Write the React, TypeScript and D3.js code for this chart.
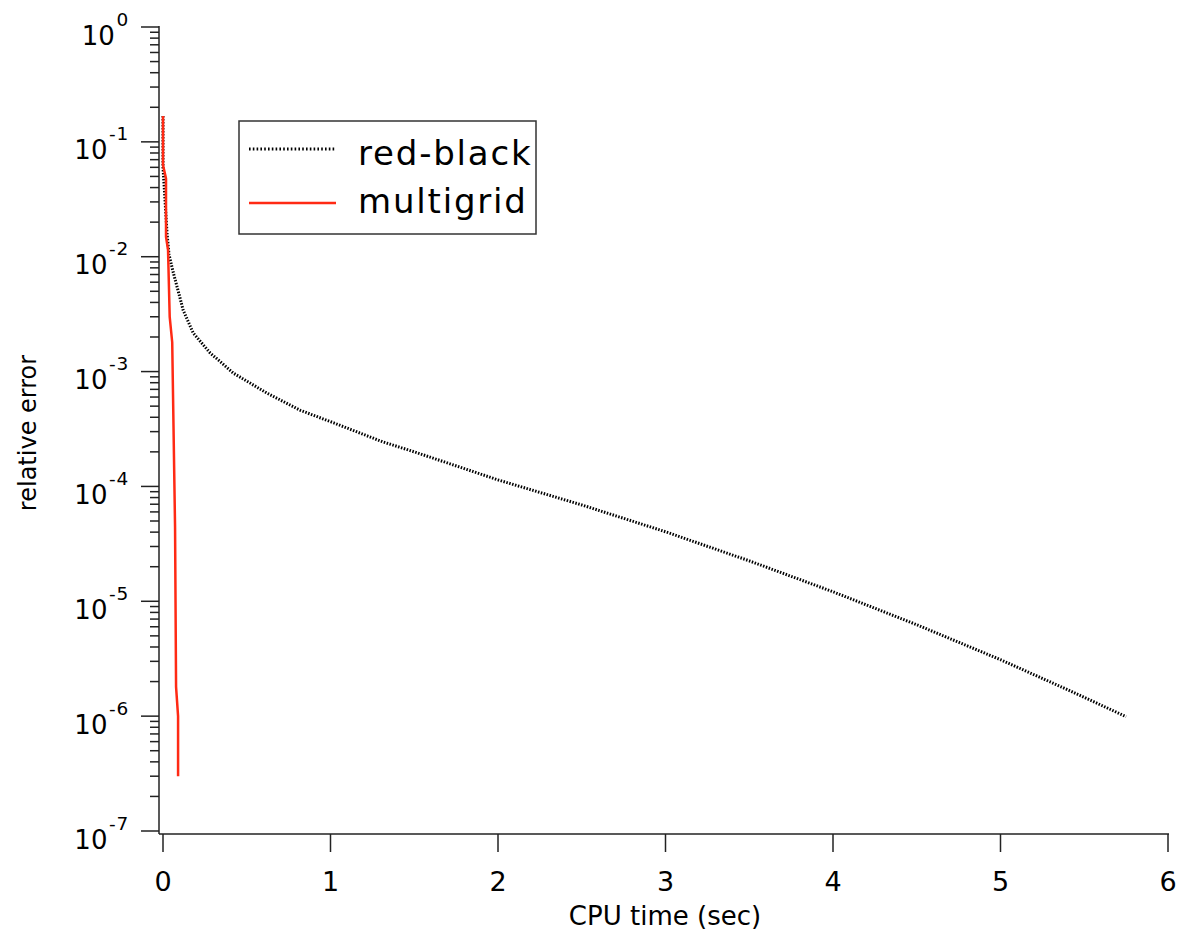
import React from "react";
import * as d3 from "d3";

// red-black Gauss-Seidel convergence
const rbTime = [0, 0, 0.012, 0.024, 0.036, 0.06, 0.1, 0.12, 0.18, 0.28, 0.42, 0.62, 0.82, 1.02, 1.31, 1.5, 2.0, 2.5, 3.0, 3.5, 4.0, 4.5, 5.0, 5.4, 5.75];
const rbError = [0.168, 0.06, 0.0312, 0.0161, 0.0104, 0.0074, 0.00447, 0.00344, 0.00217, 0.00146, 0.00097, 0.00065, 0.00046, 0.000357, 0.000245, 0.0002, 0.000114, 0.000069, 0.0000403, 0.0000225, 0.0000121, 0.00000625, 0.0000031, 0.0000017, 0.00000099];

// multigrid convergence
const mgTime = [0, 0, 0.018, 0.018, 0.03, 0.04, 0.055, 0.072, 0.078, 0.09, 0.09];
const mgError = [0.168, 0.063, 0.048, 0.0149, 0.0115, 0.003, 0.0018, 0.000044, 0.0000018, 0.000001, 0.0000003];

const xTicks = [0, 1, 2, 3, 4, 5, 6];
const yExponents = [0, -1, -2, -3, -4, -5, -6, -7];
const seriesNames = ["red-black", "multigrid"];
const xTitle = "CPU time (sec)";
const yTitle = "relative error";

const FONT = "'DejaVu Sans', Verdana, sans-serif";

export default function App() {
  const x = d3.scaleLinear().domain([0, 6]).range([163, 1168]);
  const y = d3.scaleLog().domain([1, 1e-7]).range([27, 831]);

  const line = d3
    .line<[number, number]>()
    .x((d) => x(d[0]))
    .y((d) => y(d[1]));

  const rbPts: [number, number][] = rbTime.map((t, i) => [t, rbError[i]]);
  const mgPts: [number, number][] = mgTime.map((t, i) => [t, mgError[i]]);

  const minor: number[] = [];
  yExponents.slice(0, -1).forEach((e) => {
    for (let k = 2; k <= 9; k++) minor.push(k * Math.pow(10, e - 1));
  });

  const axisX = 159;
  const axisY = 834;

  return (
    <svg
      width={1181}
      height={936}
      style={{ position: "absolute", left: 0, top: 0, background: "#fff" }}
      fontFamily={FONT}
    >
      <rect x={0} y={0} width={1181} height={936} fill="#fff" />
      {/* axes lines */}
      <line x1={axisX} y1={26} x2={axisX} y2={axisY} stroke="#222" strokeWidth={1.5} />
      <line x1={axisX} y1={axisY} x2={1169} y2={axisY} stroke="#222" strokeWidth={1.5} />

      {/* y major ticks + labels */}
      {yExponents.map((e) => {
        const yy = y(Math.pow(10, e));
        return (
          <g key={"ym" + e}>
            <line x1={141} x2={axisX} y1={yy} y2={yy} stroke="#222" strokeWidth={1.5} />
            <text x={129} y={yy + 17.5} textAnchor="end" fontSize={26} fill="#000">
              10
              <tspan dx={1.5} dy={-19} fontSize={18.5} letterSpacing={0.8}>
                {e === 0 ? "0" : "-" + Math.abs(e)}
              </tspan>
            </text>
          </g>
        );
      })}
      {minor.map((v, i) => (
        <line key={"yn" + i} x1={150} x2={axisX} y1={y(v)} y2={y(v)} stroke="#222" strokeWidth={1.5} />
      ))}

      {/* x ticks + labels */}
      {xTicks.map((t) => (
        <g key={"x" + t}>
          <line x1={x(t)} x2={x(t)} y1={axisY} y2={852} stroke="#222" strokeWidth={1.5} />
          <text x={x(t)} y={891} textAnchor="middle" fontSize={27} fill="#000">
            {t}
          </text>
        </g>
      ))}

      {/* axis titles */}
      <text x={665} y={925} textAnchor="middle" fontSize={26} fill="#000">
        {xTitle}
      </text>
      <text
        transform={`translate(36, 433) rotate(-90)`}
        textAnchor="middle"
        fontSize={24}
        fill="#000"
      >
        {yTitle}
      </text>

      {/* data */}
      <path d={line(rbPts) || ""} fill="none" stroke="#000" strokeWidth={3} strokeDasharray="1.5,1.5" />
      <path d={line(mgPts) || ""} fill="none" stroke="#ff2a14" strokeWidth={2.5} strokeLinejoin="round" />

      {/* legend */}
      <rect x={239} y={121} width={297} height={113} fill="#fff" stroke="#333" strokeWidth={1.5} />
      <line x1={249} x2={336} y1={149} y2={149} stroke="#000" strokeWidth={3} strokeDasharray="1.6,2.2" />
      <line x1={249} x2={336} y1={203} y2={203} stroke="#ff2a14" strokeWidth={2.5} />
      <text x={358} y={165} fontSize={34} letterSpacing={1.8} fill="#000">
        {seriesNames[0]}
      </text>
      <text x={358} y={213} fontSize={34} letterSpacing={1.8} fill="#000">
        {seriesNames[1]}
      </text>
    </svg>
  );
}
